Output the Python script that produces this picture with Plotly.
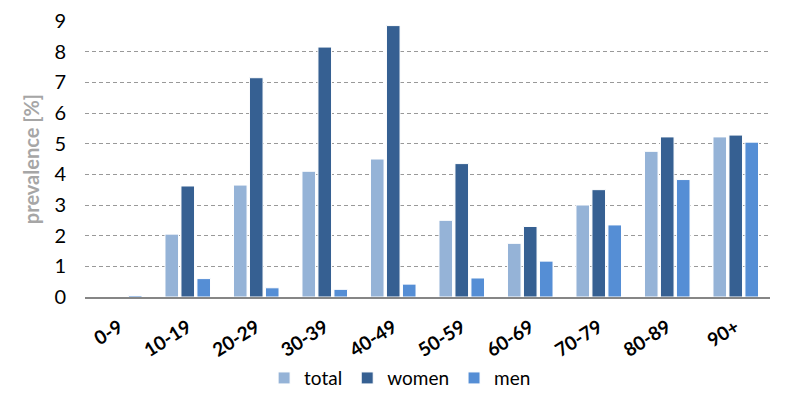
import plotly.graph_objects as go

categories = ["0-9", "10-19", "20-29", "30-39", "40-49", "50-59", "60-69", "70-79", "80-89", "90+"]
total = [0.0, 2.05, 3.65, 4.1, 4.5, 2.5, 1.75, 3.0, 4.75, 5.22]
women = [0.0, 3.62, 7.15, 8.15, 8.85, 4.35, 2.3, 3.5, 5.22, 5.28]
men = [0.05, 0.6, 0.3, 0.25, 0.42, 0.62, 1.17, 2.35, 3.83, 5.05]
y_ticks = list(range(0, 10))

font_family = "Lato, Open Sans, sans-serif"

fig = go.Figure()
for name, vals, col in [("total", total, "#95B3D7"), ("women", women, "#366092"), ("men", men, "#558ED5")]:
    fig.add_trace(go.Bar(x=categories, y=vals, name=name, marker=dict(color=col, line=dict(color="white", width=1))))

fig.update_layout(
    width=800, height=412,
    margin=dict(l=77, r=38, t=13, b=123),
    plot_bgcolor="white", paper_bgcolor="white",
    barmode="group", bargap=0.3, bargroupgap=0.15,
    font=dict(family=font_family, color="black"),
    legend=dict(orientation="h", x=0.46, xanchor="center", y=-0.225, yanchor="top",
                font=dict(size=19, family=font_family), itemwidth=30, traceorder="normal"),
    showlegend=True,
)
fig.update_yaxes(range=[0, 9], tickvals=y_ticks, showgrid=True, gridcolor="#999999", griddash="4px,3px",
                 gridwidth=1.3, zeroline=False, tickfont=dict(size=20), ticks="", ticklabelstandoff=18,
                 automargin=False,
                 title=dict(text="<b>prevalence [%]</b>", font=dict(size=20, color="#A6A6A6"), standoff=9),
                 showline=False)
fig.update_xaxes(showline=True, linecolor="#868686", linewidth=2, tickangle=-32,
                 tickfont=dict(size=19), ticks="", showgrid=False, automargin=False, ticklabelstandoff=10,
                 tickvals=categories, ticktext=["<b>%s</b>" % c for c in categories])
fig.write_html("out.html")
